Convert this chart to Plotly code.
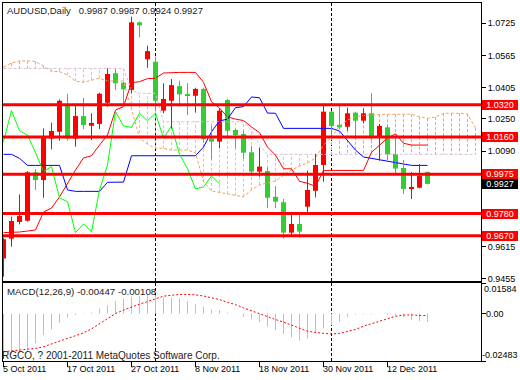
import plotly.graph_objects as go

# ---------------- data ----------------
tick_idx = [0, 8, 16, 24, 32, 40, 48]
tick_labels = ["5 Oct 2011", "17 Oct 2011", "27 Oct 2011", "8 Nov 2011",
               "18 Nov 2011", "30 Nov 2011", "12 Dec 2011"]

opens = [0.9557, 0.9655, 0.9738, 0.9744, 0.9985, 0.9946, 1.0152, 1.0186, 1.0323, 1.0152,
         1.0264, 1.0216, 1.0225, 1.0330, 1.0477, 1.0430, 1.0394, 1.0730, 1.0546, 1.0534,
         1.0291, 1.0340, 1.0413, 1.0374, 1.0365, 1.0399, 1.0152, 1.0137, 1.0344, 1.0195,
         1.0175, 1.0084, 0.9988, 0.9991, 0.9863, 0.9836, 0.9685, 0.9728, 0.9814, 0.9893,
         1.0021, 1.0286, 1.0220, 1.0211, 1.0281, 1.0241, 1.0278, 1.0161, 1.0208, 1.0076,
         1.0006, 0.9903, 0.9908, 0.9987]
highs = [0.9660, 0.9764, 0.9875, 0.9990, 1.0001, 1.0203, 1.0231, 1.0347, 1.0374, 1.0314,
         1.0355, 1.0278, 1.0380, 1.0501, 1.0498, 1.0435, 1.0758, 1.0735, 1.0614, 1.0559,
         1.0427, 1.0448, 1.0440, 1.0427, 1.0405, 1.0405, 1.0215, 1.0303, 1.0350, 1.0203,
         1.0190, 1.0115, 1.0107, 1.0010, 0.9917, 0.9852, 0.9777, 0.9776, 0.9993, 1.0076,
         1.0327, 1.0290, 1.0324, 1.0306, 1.0286, 1.0303, 1.0377, 1.0225, 1.0220, 1.0161,
         1.0046, 0.9986, 1.0026, 0.9987]
lows = [0.9466, 0.9615, 0.9726, 0.9740, 0.9897, 0.9858, 1.0099, 1.0142, 1.0142, 1.0112,
        1.0200, 1.0145, 1.0200, 1.0311, 1.0394, 1.0319, 1.0377, 1.0655, 1.0504, 1.0294,
        1.0278, 1.0203, 1.0311, 1.0269, 1.0281, 1.0132, 1.0049, 1.0104, 1.0154, 1.0104,
        1.0051, 0.9968, 0.9963, 0.9806, 0.9806, 0.9657, 0.9665, 0.9660, 0.9781, 0.9860,
        0.9938, 1.0154, 1.0198, 1.0191, 1.0154, 1.0228, 1.0145, 1.0042, 1.0046, 0.9971,
        0.9877, 0.9852, 0.9905, 0.9924]
closes = [0.9652, 0.9743, 0.9768, 0.9985, 0.9946, 1.0159, 1.0190, 1.0340, 1.0152, 1.0264,
          1.0220, 1.0230, 1.0375, 1.0473, 1.0427, 1.0397, 1.0730, 1.0715, 1.0587, 1.0340,
          1.0349, 1.0418, 1.0372, 1.0365, 1.0399, 1.0149, 1.0137, 1.0291, 1.0191, 1.0170,
          1.0082, 0.9988, 1.0013, 0.9858, 0.9839, 0.9685, 0.9728, 0.9690, 0.9897, 1.0021,
          1.0286, 1.0215, 1.0208, 1.0278, 1.0241, 1.0278, 1.0154, 1.0215, 1.0074, 1.0003,
          0.9902, 0.9912, 0.9966, 0.9927]

tenkan = [0.9685, 0.9685, 0.9688, 0.9693, 0.9698, 0.9787, 0.9807, 0.9862, 0.9931, 0.9996,
          1.0056, 1.0067, 1.0120, 1.0170, 1.0294, 1.0311, 1.0430, 1.0435, 1.0450, 1.0452,
          1.0478, 1.0481, 1.0481, 1.0481, 1.0481, 1.0432, 1.0335, 1.0304, 1.0260, 1.0249,
          1.0242, 1.0210, 1.0182, 1.0110, 1.0070, 1.0002, 1.0002, 0.9940, 0.9930, 0.9915,
          0.9994, 0.9994, 0.9994, 0.9994, 0.9994, 0.9994, 1.0084, 1.0120, 1.0155, 1.0176,
          1.0129, 1.0120, 1.0120, 1.0120]
kijun = [1.0074, 1.0074, 1.0054, 1.0019, 1.0019, 1.0019, 1.0019, 1.0019, 0.9897, 0.9890,
         0.9890, 0.9890, 0.9890, 0.9935, 0.9935, 0.9936, 1.0067, 1.0067, 1.0067, 1.0067,
         1.0067, 1.0067, 1.0067, 1.0067, 1.0067, 1.0110, 1.0186, 1.0240, 1.0249, 1.0306,
         1.0311, 1.0359, 1.0355, 1.0279, 1.0278, 1.0203, 1.0203, 1.0203, 1.0203, 1.0203,
         1.0203, 1.0203, 1.0190, 1.0140, 1.0095, 1.0061, 1.0054, 1.0046, 1.0037, 1.0032,
         1.0026, 1.0019, 1.0019, 1.0019]
span_a = [1.0508, 1.0528, 1.0538, 1.0539, 1.0535, 1.0513, 1.0486, 1.0485, 1.0468, 1.0438,
          1.0432, 1.0443, 1.0452, 1.0438, 1.0438, 1.0438, 1.0300, 1.0155, 1.0124, 1.0104,
          1.0104, 1.0095, 1.0095, 1.0095, 1.0081, 0.9937, 0.9892, 0.9884, 0.9877, 0.9869,
          0.9863, 0.9897, 0.9922, 0.9932, 0.9941, 0.9971, 0.9996, 1.0016, 1.0031, 1.0056,
          1.0120, 1.0160, 1.0215, 1.0245, 1.0261, 1.0267, 1.0269, 1.0273, 1.0273, 1.0273,
          1.0273, 1.0273, 1.0261, 1.0253, 1.0259, 1.0278, 1.0278, 1.0278, 1.0274, 1.0205]
span_b = [1.0501] * 16 + [1.0394, 1.0377, 1.0377, 1.0377] + [1.0236] * 11 + \
         [1.0195, 1.0120] + [1.0074] * 27
macd_main = [-0.0235, -0.0215, -0.0205, -0.0198, -0.0156, -0.0113, -0.0083, -0.0048, -0.0020, -0.0008,
             0.0002, 0.0006, 0.0027, 0.0044, 0.0066, 0.0079, 0.0087, 0.0091, 0.0101, 0.0096,
             0.0087, 0.0084, 0.0079, 0.0066, 0.0049, 0.0035, 0.0021, 0.0018, 0.0006, 0.0001,
             -0.0017, -0.0031, -0.0045, -0.0069, -0.0087, -0.0107, -0.0125, -0.0142, -0.0130, -0.0104,
             -0.0078, -0.0061, -0.0043, -0.0018, -0.0005, -0.0004, -0.0004, 0.0002, -0.0006, -0.0010,
             -0.0020, -0.0035, -0.0040, -0.00447]
macd_signal = [-0.0200, -0.0196, -0.0192, -0.0189, -0.0182, -0.0174, -0.0160, -0.0144, -0.0130, -0.0118,
               -0.0101, -0.0080, -0.0052, -0.0026, 0.0000, 0.0018, 0.0035, 0.0049, 0.0063, 0.0079,
               0.0091, 0.0096, 0.0100, 0.0100, 0.0098, 0.0092, 0.0084, 0.0073, 0.0059, 0.0047,
               0.0030, 0.0014, 0.0000, -0.0017, -0.0031, -0.0045, -0.0060, -0.0078, -0.0092, -0.0099,
               -0.0104, -0.0107, -0.0104, -0.0095, -0.0083, -0.0066, -0.0052, -0.0038, -0.0024, -0.0014,
               -0.0008, -0.0007, -0.0010, -0.00108]
levels = [1.0320, 1.0160, 0.9975, 0.9780, 0.9670]
last_price = 0.9927
price_ticks = [1.0725, 1.0565, 1.0405, 1.0250, 1.0090, 0.9615, 0.9455]
macd_ticks = [0.01584, 0.0, -0.02483]
macd_tick_text = ["0.01584", "0.00", "-0.02483"]
separators = [19, 41]
title_text = "AUDUSD,Daily\u00a0\u00a0\u00a00.9987 0.9987 0.9924 0.9927"
macd_text = "MACD(12,26,9) -0.00447 -0.00108"
copyright_text = "RGCO, ? 2001-2011 MetaQuotes Software Corp."

# ---------------- styles ----------------
UP = "#FF0000"
DOWN = "#32CD32"
FONT = "Liberation Sans, Arial, sans-serif"
n = len(closes)
idx = list(range(n))
cloud_idx = list(range(len(span_a)))
chikou = closes[26:]

fig = go.Figure()

# cloud hatching
hx_o, hy_o, hx_t, hy_t = [], [], [], []
for i, (a, b) in enumerate(zip(span_a, span_b)):
    if a >= b:
        hx_o += [i, i, None]; hy_o += [a, b, None]
    else:
        hx_t += [i, i, None]; hy_t += [a, b, None]
fig.add_trace(go.Scatter(x=hx_o, y=hy_o, mode="lines",
                         line=dict(color="#F4A460", width=1, dash="3px,2px")))
fig.add_trace(go.Scatter(x=hx_t, y=hy_t, mode="lines",
                         line=dict(color="#D8BFD8", width=1, dash="3px,2px")))
fig.add_trace(go.Scatter(x=cloud_idx, y=span_a, mode="lines",
                         line=dict(color="#F4A460", width=1, dash="3px,2px")))
fig.add_trace(go.Scatter(x=cloud_idx, y=span_b, mode="lines",
                         line=dict(color="#D8BFD8", width=1, dash="3px,2px")))

# ichimoku lines
fig.add_trace(go.Scatter(x=idx, y=tenkan, mode="lines", line=dict(color="#FF0000", width=1)))
fig.add_trace(go.Scatter(x=idx, y=kijun, mode="lines", line=dict(color="#0000FF", width=1)))
fig.add_trace(go.Scatter(x=list(range(len(chikou))), y=chikou, mode="lines",
                         line=dict(color="#00FF00", width=1)))

# candles: wicks
wx_u, wy_u, wx_d, wy_d = [], [], [], []
for i in idx:
    if closes[i] >= opens[i]:
        wx_u += [i, i, None]; wy_u += [lows[i], highs[i], None]
    else:
        wx_d += [i, i, None]; wy_d += [lows[i], highs[i], None]
fig.add_trace(go.Scatter(x=wx_u, y=wy_u, mode="lines", line=dict(color=UP, width=1)))
fig.add_trace(go.Scatter(x=wx_d, y=wy_d, mode="lines", line=dict(color=DOWN, width=1)))

# candles: bodies
bases = [min(o, c) for o, c in zip(opens, closes)]
heights = [max(abs(c - o), 0.0005) for o, c in zip(opens, closes)]
colors = [UP if c >= o else DOWN for o, c in zip(opens, closes)]
fig.add_trace(go.Bar(x=idx, y=heights, base=bases, width=0.625,
                     marker=dict(color=colors, line=dict(width=0))))

# MACD
mx, my = [], []
for i, v in enumerate(macd_main):
    mx += [i, i, None]; my += [0, v, None]
fig.add_trace(go.Scatter(x=mx, y=my, mode="lines", line=dict(color="#C0C0C0", width=1),
                         xaxis="x2", yaxis="y2"))
fig.add_trace(go.Scatter(x=idx, y=macd_signal, mode="lines",
                         line=dict(color="#FF0000", width=1, dash="2px,2px"),
                         xaxis="x2", yaxis="y2"))

# ---------------- layout ----------------
xr = [-0.0625, 59.6875]
axis_common = dict(showgrid=False, zeroline=False, showline=True, mirror=True,
                   linecolor="black", linewidth=1)
fig.update_layout(
    width=520, height=380,
    margin=dict(l=3, r=39, t=3, b=19),
    paper_bgcolor="white", plot_bgcolor="white",
    showlegend=False, hovermode=False, barmode="overlay",
    font=dict(family=FONT, size=9, color="black"),
    xaxis=dict(domain=[0, 1], range=xr, anchor="y", showticklabels=False, ticks="",
               **axis_common),
    yaxis=dict(domain=[0.22346, 1], range=[0.94446, 1.08259], anchor="x", side="right",
               tickvals=price_ticks, ticktext=[f"{v:.4f}" for v in price_ticks],
               ticks="outside", ticklen=4, tickcolor="black",
               tickfont=dict(family=FONT, size=9, color="black"), **axis_common),
    xaxis2=dict(domain=[0, 1], range=xr, anchor="y2", tickvals=tick_idx,
                showticklabels=False, ticks="outside", ticklen=5, tickcolor="black",
                **axis_common),
    yaxis2=dict(domain=[0, 0.2170], range=[-0.02483, 0.01584], anchor="x2", side="right",
                tickvals=macd_ticks, showticklabels=False, ticks="outside", ticklen=4,
                tickcolor="black", **axis_common),
)

shapes = []
for s in separators:
    shapes.append(dict(type="line", xref="x", yref="paper", x0=s, x1=s, y0=0, y1=1,
                       layer="below", line=dict(color="black", width=1, dash="3px,2px")))
for lv in levels:
    shapes.append(dict(type="line", xref="paper", yref="y", x0=0, x1=1, y0=lv, y1=lv,
                       line=dict(color="#FF0000", width=3)))
fig.update_layout(shapes=shapes)

ann = []
for lv in levels:
    ann.append(dict(xref="paper", yref="y", x=1, y=lv, xanchor="left", yanchor="middle",
                    xshift=1, text=f"{lv:.4f}", showarrow=False, bgcolor="#FF0000",
                    font=dict(family=FONT, size=9, color="white"),
                    width=36, height=10, borderpad=0, borderwidth=0))
ann.append(dict(xref="paper", yref="y", x=1, y=last_price, xanchor="left", yanchor="middle",
                xshift=1, text=f"{last_price:.4f}", showarrow=False, bgcolor="black",
                font=dict(family=FONT, size=9, color="white"),
                width=36, height=10, borderpad=0, borderwidth=0))
for v, t, ya, xs in zip(macd_ticks, macd_tick_text, ["top", "middle", "bottom"], [3, 5, 1]):
    ann.append(dict(xref="paper", yref="y2", x=1, y=v, xanchor="left", yanchor=ya,
                    xshift=xs, yshift=(-1 if ya == "top" else (1 if ya == "bottom" else 0)),
                    text=t, showarrow=False, borderpad=0, borderwidth=0,
                    font=dict(family=FONT, size=9, color="black")))
for ti, tl in zip(tick_idx, tick_labels):
    ann.append(dict(xref="x2", yref="paper", x=ti, y=0, xanchor="left", yanchor="top",
                    xshift=-1, yshift=-3, text=tl, showarrow=False, borderpad=0, borderwidth=0,
                    font=dict(family=FONT, size=9, color="black")))
ann.append(dict(xref="paper", yref="paper", x=0, y=1, xanchor="left", yanchor="top",
                xshift=4, yshift=-2, text=title_text, showarrow=False, borderpad=0,
                borderwidth=0, font=dict(family=FONT, size=9.5, color="#222222")))
ann.append(dict(xref="paper", yref="paper", x=0, y=0.2170, xanchor="left", yanchor="top",
                xshift=4, yshift=-3, text=macd_text, showarrow=False, borderpad=0,
                borderwidth=0, font=dict(family=FONT, size=9.7, color="#222222")))
ann.append(dict(xref="paper", yref="paper", x=0, y=0, xanchor="left", yanchor="bottom",
                xshift=-1, yshift=0, text=copyright_text, showarrow=False, borderpad=0,
                borderwidth=0, font=dict(family=FONT, size=10, color="#222222")))
fig.update_layout(annotations=ann)

fig.write_html("out.html", config={"displayModeBar": False},
               post_script="document.body.style.margin='0';document.body.style.overflow='hidden';")
